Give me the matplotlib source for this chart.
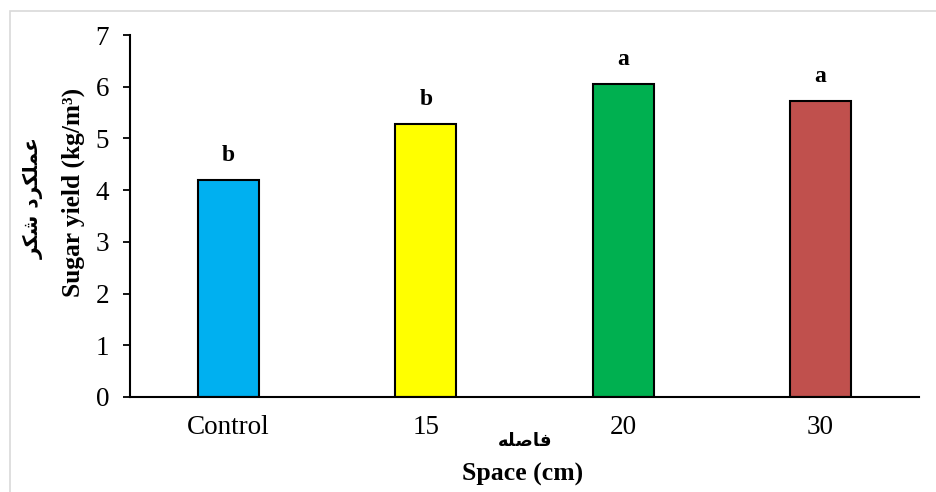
import matplotlib
matplotlib.use('Agg')
import matplotlib.pyplot as plt
from matplotlib.patches import Rectangle

# data
categories = ['Control', '15', '20', '30']
yield_values = [4.20, 5.28, 6.05, 5.72]
letters = ['b', 'b', 'a', 'a']
bar_colors = ['#00B0F0', '#FFFF00', '#00B050', '#C0504D']

# Persian labels, written in presentation forms in visual order
# (matplotlib does no Arabic shaping)
ylabel_fa = '\uFEAE\uFB91\uFEB7 \uFEA9\uFEAE\uFB91\uFEE0\uFEE4\uFECB'   # عملکرد شکر
xlabel_fa = '\uFEEA\uFEE0\uFEBB\uFE8E\uFED3'                          # فاصله

plt.rcParams['font.family'] = ['Liberation Serif', 'DejaVu Sans']

fig = plt.figure(figsize=(9.37, 4.92), dpi=100)
ax = fig.add_axes([130 / 937, 1 - 397 / 492, (919 - 130) / 937, (397 - 35) / 492])

x = range(len(categories))
ax.bar(x, yield_values, width=0.31, color=bar_colors, edgecolor='black', linewidth=1.5)

for i, (v, t) in enumerate(zip(yield_values, letters)):
    ax.text(i, v + 0.27, t, ha='center', va='bottom', fontsize=17, fontweight='bold')

ax.set_xlim(-0.5, 3.5)
ax.set_ylim(0, 7)
ax.set_yticks(range(0, 8))
ax.set_xticks(list(x))
ax.set_xticklabels(categories)
ax.tick_params(axis='y', labelsize=19.5, length=5, width=1.3, pad=10, direction='out')
ax.tick_params(axis='x', labelsize=19.5, length=0, pad=13)

for s in ['top', 'right']:
    ax.spines[s].set_visible(False)
ax.spines['left'].set_linewidth(1.5)
ax.spines['bottom'].set_linewidth(1.5)

# axis titles (two lines each: Persian and English)
fig.text(73 / 937, 1 - 192 / 492, 'Sugar yield (kg/m³)', rotation=90, ha='center', va='center',
         fontsize=18.3, fontweight='bold')
fig.text(34 / 937, 1 - 198 / 492, ylabel_fa, rotation=90, ha='center', va='center',
         fontsize=14.5, fontweight='bold', family=['DejaVu Sans'])
fig.text(525 / 937, 1 - 441 / 492, xlabel_fa, ha='center', va='center',
         fontsize=13, fontweight='bold', family=['DejaVu Sans'])
fig.text(523 / 937, 1 - 474 / 492, 'Space (cm)', ha='center', va='center',
         fontsize=18.5, fontweight='bold')

# light grey chart-area frame, partially cropped in the reference
fig.patches.append(Rectangle((10 / 937, -0.05), 1.2, 1 - 11 / 492 + 0.05, transform=fig.transFigure,
                             fill=False, edgecolor='#D9D9D9', linewidth=1.2))

fig.savefig('out.png', dpi=100)
